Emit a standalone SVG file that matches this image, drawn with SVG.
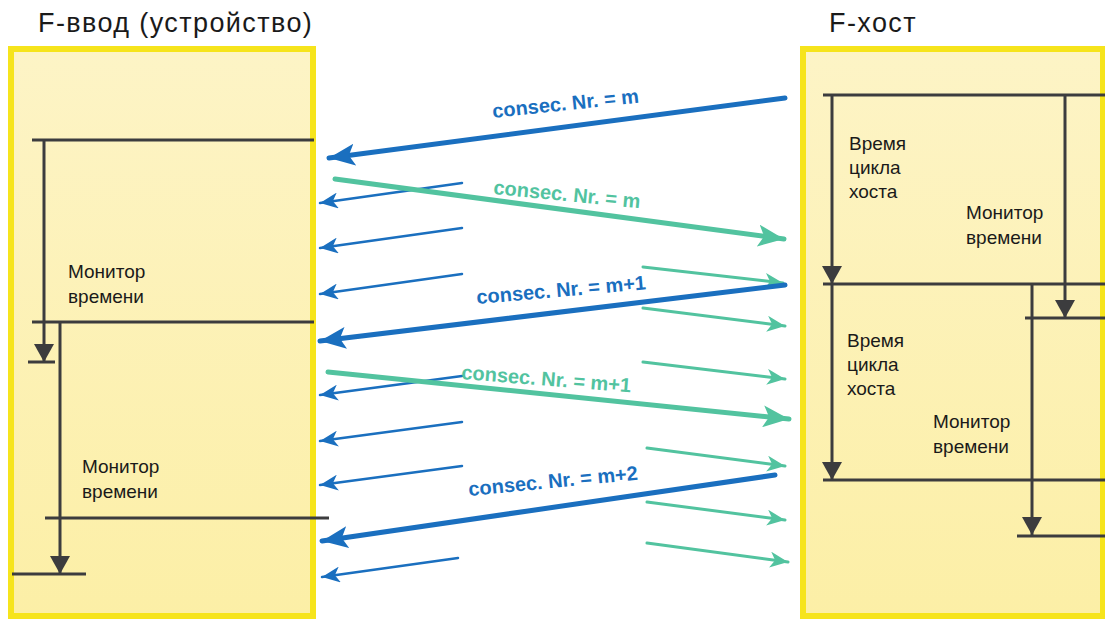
<svg xmlns="http://www.w3.org/2000/svg" width="1105" height="620" viewBox="0 0 1105 620">
<defs>
<linearGradient id="fillg" x1="0" y1="0" x2="0" y2="1">
<stop offset="0" stop-color="#fdf4c6"/>
<stop offset="1" stop-color="#fcefa6"/>
</linearGradient>
<marker id="hd" markerUnits="userSpaceOnUse" markerWidth="20" markerHeight="20" refX="18" refY="10" orient="auto" viewBox="0 0 20 20">
<path d="M0,0 L18,10 L0,20 Z" fill="#3c3c3e"/>
</marker>
<marker id="bT" markerUnits="userSpaceOnUse" markerWidth="26" markerHeight="22" refX="26" refY="11" orient="auto" viewBox="0 0 26 22">
<path d="M0,0 L26,11 L0,22 L6,11 Z" fill="#1a6fbf"/>
</marker>
<marker id="gT" markerUnits="userSpaceOnUse" markerWidth="26" markerHeight="22" refX="26" refY="11" orient="auto" viewBox="0 0 26 22">
<path d="M0,0 L26,11 L0,22 L6,11 Z" fill="#52c39f"/>
</marker>
<marker id="bt" markerUnits="userSpaceOnUse" markerWidth="18" markerHeight="16" refX="18" refY="8" orient="auto" viewBox="0 0 18 16">
<path d="M0,0 L18,8 L0,16 L5,8 Z" fill="#1a6fbf"/>
</marker>
<marker id="gt" markerUnits="userSpaceOnUse" markerWidth="18" markerHeight="16" refX="18" refY="8" orient="auto" viewBox="0 0 18 16">
<path d="M0,0 L18,8 L0,16 L5,8 Z" fill="#52c39f"/>
</marker>
</defs>
<style>
.box{fill:url(#fillg);stroke:#f6e41c;stroke-width:6}
.ln{stroke:#3c3c3e;stroke-width:3;fill:none}
.ar{stroke:#3c3c3e;stroke-width:3;fill:none;marker-end:url(#hd)}
.title{font-family:"Liberation Sans",Arial,sans-serif;font-size:27px;letter-spacing:1.4px;fill:#1a1a1a}
.lab{font-family:"Liberation Sans",Arial,sans-serif;font-size:19px;fill:#1a1a1a}
.bthick{stroke:#1a6fbf;stroke-width:5;fill:none;stroke-linecap:round;marker-end:url(#bT)}
.gthick{stroke:#52c39f;stroke-width:5;fill:none;stroke-linecap:round;marker-end:url(#gT)}
.bthin{stroke:#1a6fbf;stroke-width:2.5;fill:none;stroke-linecap:round;marker-end:url(#bt)}
.gthin{stroke:#52c39f;stroke-width:3;fill:none;stroke-linecap:round;marker-end:url(#gt)}
.cb{font-family:"Liberation Sans",Arial,sans-serif;font-size:20px;font-weight:bold;fill:#1a6fbf}
.cg{font-family:"Liberation Sans",Arial,sans-serif;font-size:20px;font-weight:bold;fill:#52c39f}
</style>
<rect width="1105" height="620" fill="#ffffff"/>

<g id="device">
<rect class="box" x="11" y="49" width="302" height="567"/>
<text class="title" x="38" y="32">F-ввод (устройство)</text>
<line class="ln" x1="32" y1="140" x2="314" y2="140"/>
<line class="ar" x1="44" y1="140" x2="44" y2="362"/>
<line class="ln" x1="28" y1="362" x2="55" y2="362"/>
<line class="ln" x1="32" y1="322" x2="314" y2="322"/>
<line class="ar" x1="60" y1="322" x2="60" y2="574"/>
<line class="ln" x1="45" y1="518" x2="329" y2="518"/>
<line class="ln" x1="12" y1="574" x2="86" y2="574"/>
<text class="lab" x="68" y="278">Монитор</text>
<text class="lab" x="68" y="303">времени</text>
<text class="lab" x="82" y="473">Монитор</text>
<text class="lab" x="82" y="498">времени</text>
</g>

<g id="host">
<rect class="box" x="803" y="49" width="300" height="567"/>
<text class="title" x="829" y="32">F-хост</text>
<line class="ln" x1="823" y1="95" x2="1105" y2="95"/>
<line class="ar" x1="832" y1="95" x2="832" y2="284"/>
<line class="ar" x1="1065" y1="95" x2="1065" y2="318"/>
<line class="ln" x1="823" y1="284" x2="1105" y2="284"/>
<line class="ln" x1="1025" y1="318" x2="1105" y2="318"/>
<line class="ar" x1="832" y1="284" x2="832" y2="480"/>
<line class="ar" x1="1032" y1="284" x2="1032" y2="535"/>
<line class="ln" x1="823" y1="480" x2="1105" y2="480"/>
<line class="ln" x1="1017" y1="536" x2="1105" y2="536"/>
<text class="lab" x="849" y="150">Время</text>
<text class="lab" x="849" y="174">цикла</text>
<text class="lab" x="849" y="198">хоста</text>
<text class="lab" x="966" y="219">Монитор</text>
<text class="lab" x="966" y="244">времени</text>
<text class="lab" x="847" y="347">Время</text>
<text class="lab" x="847" y="371">цикла</text>
<text class="lab" x="847" y="395">хоста</text>
<text class="lab" x="933" y="428">Монитор</text>
<text class="lab" x="933" y="453">времени</text>
</g>

<g id="connectors">
<line class="bthin" x1="462" y1="183" x2="320" y2="203"/>
<line class="bthin" x1="462" y1="228" x2="320" y2="248"/>
<line class="bthin" x1="462" y1="274" x2="320" y2="294"/>
<line class="bthin" x1="462" y1="376" x2="320" y2="395"/>
<line class="bthin" x1="462" y1="422" x2="320" y2="441"/>
<line class="bthin" x1="462" y1="466" x2="320" y2="485"/>
<line class="bthin" x1="458" y1="558" x2="322" y2="577"/>
<line class="gthin" x1="643" y1="267" x2="783" y2="283"/>
<line class="gthin" x1="643" y1="308" x2="785" y2="326"/>
<line class="gthin" x1="643" y1="362" x2="785" y2="379"/>
<line class="gthin" x1="647" y1="448" x2="785" y2="466"/>
<line class="gthin" x1="647" y1="502" x2="785" y2="520"/>
<line class="gthin" x1="647" y1="543" x2="788" y2="562"/>
<line class="gthick" x1="335" y1="179" x2="784" y2="239"/>
<line class="gthick" x1="328" y1="372" x2="789" y2="419"/>
<line class="bthick" x1="785" y1="98" x2="329" y2="158"/>
<line class="bthick" x1="785" y1="285" x2="320" y2="341"/>
<line class="bthick" x1="775" y1="475" x2="322" y2="541"/>
<text class="cb" transform="translate(493,118) rotate(-6)">consec. Nr. = m</text>
<text class="cg" transform="translate(493,194) rotate(5.5)">consec. Nr. = m</text>
<text class="cb" transform="translate(477,304) rotate(-5)">consec. Nr. = m+1</text>
<text class="cg" transform="translate(461,379) rotate(4.5)">consec. Nr. = m+1</text>
<text class="cb" transform="translate(469,496) rotate(-5.5)">consec. Nr. = m+2</text>
</g>
</svg>
